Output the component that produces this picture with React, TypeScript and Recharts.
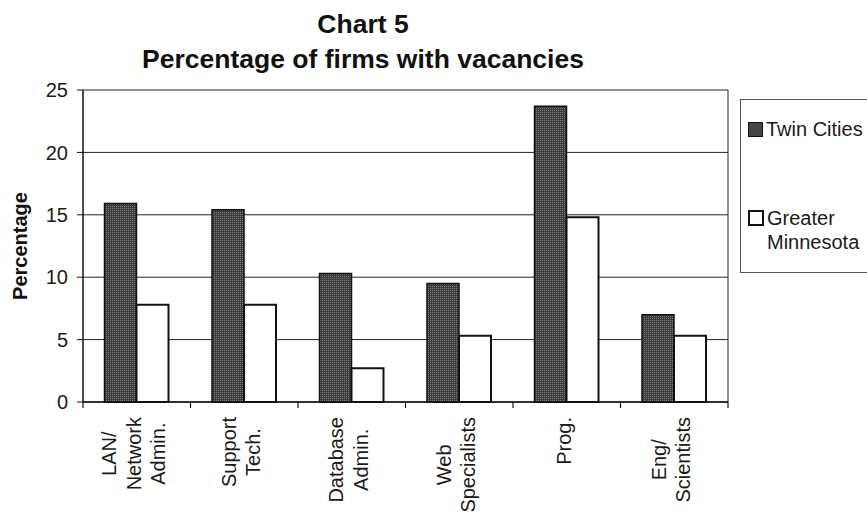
import { BarChart, Bar, XAxis, YAxis, CartesianGrid, Legend } from "recharts";

const categories = [
  "LAN/\nNetwork\nAdmin.",
  "Support\nTech.",
  "Database\nAdmin.",
  "Web\nSpecialists",
  "Prog.",
  "Eng/\nScientists",
];
const twinCities = [15.9, 15.4, 10.3, 9.5, 23.7, 7.0];
const greaterMinnesota = [7.8, 7.8, 2.7, 5.3, 14.8, 5.3];
const yTicks = [0, 5, 10, 15, 20, 25];

const data = categories.map((name, i) => ({
  name,
  tc: twinCities[i],
  gm: greaterMinnesota[i],
}));

const FONT = '"Liberation Sans", Arial, sans-serif';
const W = 867;
const H = 512;
const MARGIN = { top: 90, right: 139, bottom: 0, left: 0 };
const Y_AXIS_W = 83;
const X_AXIS_H = 110;
const PLOT_W = W - MARGIN.left - MARGIN.right - Y_AXIS_W;
const BAND = PLOT_W / categories.length;
const LABEL_SIZE = 20;
const LINE_H = 24.5;

let ctx: CanvasRenderingContext2D | null = null;
const measure = (s: string) => {
  if (!ctx) ctx = document.createElement("canvas").getContext("2d");
  if (!ctx) return s.length * LABEL_SIZE * 0.5;
  ctx.font = `${LABEL_SIZE}px "Liberation Sans"`;
  return ctx.measureText(s).width;
};

const XTick = (props: any) => {
  const { x, y, payload, index } = props;
  const lines = String(payload.value).split("\n");
  const longest = Math.max(...lines.map(measure));
  const cy = y + 15 + longest / 2;
  const cx = x - 3;
  const n = lines.length;
  return (
    <g>
      {index === 0 && (
        <line x1={x - BAND / 2} x2={x - BAND / 2} y1={y} y2={y + 6} stroke="#111" strokeWidth={1.2} />
      )}
      <line x1={x + BAND / 2} x2={x + BAND / 2} y1={y} y2={y + 6} stroke="#111" strokeWidth={1.2} />
      <text
        transform={`rotate(-90 ${cx} ${cy})`}
        x={cx}
        y={cy}
        textAnchor="middle"
        fontSize={LABEL_SIZE}
        fontFamily={FONT}
        fill="#1a1a1a"
      >
        {lines.map((l, i) => (
          <tspan key={i} x={cx} dy={i === 0 ? -((n - 1) / 2) * LINE_H + 7 : LINE_H}>
            {l}
          </tspan>
        ))}
      </text>
    </g>
  );
};

const LegendBox = () => (
  <div
    style={{
      width: 135,
      height: 174,
      border: "1.5px solid #555",
      fontFamily: FONT,
      fontSize: LABEL_SIZE,
      color: "#1a1a1a",
      position: "relative",
      boxSizing: "border-box",
      background: "#fff",
    }}
  >
    <div style={{ position: "absolute", left: 7, top: 18, display: "flex", alignItems: "center" }}>
      <span style={{ width: 13, height: 13, background: "#444", border: "1.5px solid #111", marginRight: 3 }} />
      <span style={{ whiteSpace: "nowrap" }}>Twin Cities</span>
    </div>
    <div style={{ position: "absolute", left: 7, top: 106, lineHeight: "24px" }}>
      <div style={{ display: "flex", alignItems: "center" }}>
        <span style={{ width: 12, height: 12, background: "#fff", border: "2px solid #111", marginRight: 3 }} />
        <span>Greater</span>
      </div>
      <div style={{ paddingLeft: 19 }}>Minnesota</div>
    </div>
  </div>
);

export default function App() {
  return (
    <div style={{ position: "absolute", left: 0, top: 0, width: W, height: H, background: "#fff", overflow: "hidden" }}>
      <div
        style={{
          position: "absolute",
          left: 0,
          top: 7,
          width: 726,
          textAlign: "center",
          fontFamily: FONT,
          fontWeight: "bold",
          fontSize: 26.5,
          lineHeight: "35px",
          color: "#111",
        }}
      >
        <div>Chart 5</div>
        <div>Percentage of firms with vacancies</div>
      </div>
      <BarChart
        width={W}
        height={H}
        data={data}
        margin={MARGIN}
        barCategoryGap="20%"
        barGap={0}
        style={{ position: "absolute", left: 0, top: 0 }}
      >
        <defs>
          <pattern id="dots" width="2" height="2" patternUnits="userSpaceOnUse">
            <rect width="2" height="2" fill="#3c3c3c" />
            <rect width="1" height="1" fill="#7a7a7a" />
          </pattern>
        </defs>
        <CartesianGrid
          stroke="#222"
          strokeWidth={1}
          verticalCoordinatesGenerator={(p: any) => [p.offset.left + p.offset.width]}
        />
        <XAxis
          dataKey="name"
          height={X_AXIS_H}
          interval={0}
          tickLine={false}
          tickSize={0}
          tickMargin={0}
          axisLine={{ stroke: "#111", strokeWidth: 1.5 }}
          tick={<XTick />}
        />
        <YAxis
          width={Y_AXIS_W}
          domain={[0, 25]}
          ticks={yTicks}
          interval={0}
          tickSize={6}
          tickMargin={9}
          axisLine={{ stroke: "#111", strokeWidth: 1.5 }}
          tickLine={{ stroke: "#111" }}
          tick={{ fontSize: 20, fill: "#1a1a1a", fontFamily: FONT }}
          label={(p: any) => {
            const vb = p.viewBox;
            const cy = vb.y + vb.height / 2;
            return (
              <text
                x={20}
                y={cy}
                transform={`rotate(-90 20 ${cy})`}
                textAnchor="middle"
                dominantBaseline="central"
                fontSize={20}
                fontWeight="bold"
                fontFamily={FONT}
                fill="#111"
              >
                Percentage
              </text>
            );
          }}
        />
        <Legend
          layout="horizontal"
          verticalAlign="middle"
          align="center"
          content={<LegendBox />}
          wrapperStyle={{ position: "absolute", left: 740, top: 99, width: 135, height: 174 }}
        />
        <Bar dataKey="tc" name="Twin Cities" fill="url(#dots)" stroke="#111" strokeWidth={1.5} isAnimationActive={false} />
        <Bar dataKey="gm" name="Greater Minnesota" fill="#fff" stroke="#111" strokeWidth={2} isAnimationActive={false} />
      </BarChart>
    </div>
  );
}
